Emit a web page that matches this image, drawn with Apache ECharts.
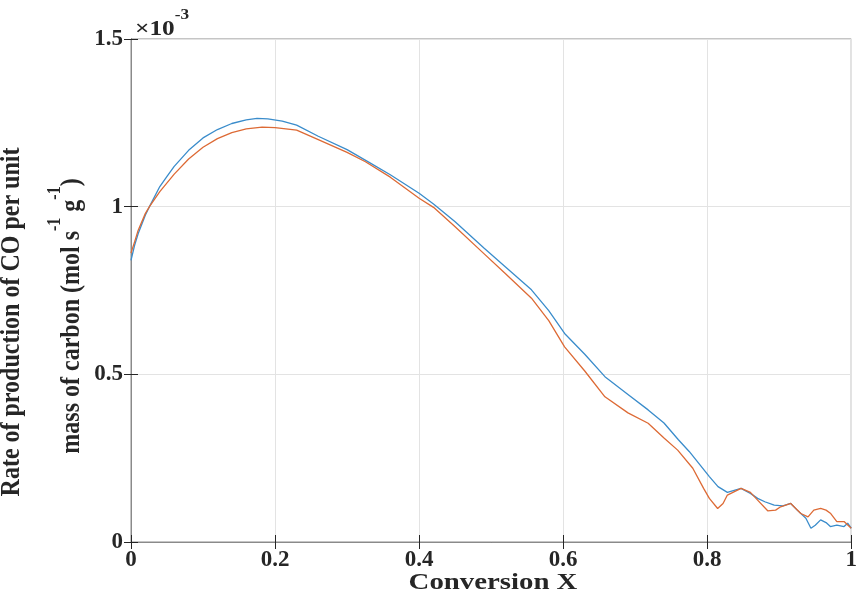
<!DOCTYPE html>
<html>
<head>
<meta charset="utf-8">
<script src="https://cdn.jsdelivr.net/npm/echarts@6/dist/echarts.min.js"></script>
<style>html,body{margin:0;padding:0;background:#fff;}#c{width:860px;height:603px;}</style>
</head>
<body>
<div id="c"></div>
<script>
const xTicks = [0, 0.2, 0.4, 0.6, 0.8, 1];
const yTicks = [0, 0.5, 1, 1.5];

const blueX = [0,0.005,0.01,0.02,0.0256,0.04,0.05,0.06,0.08,0.10,0.12,0.14,0.16,0.175,0.19,0.21,0.23,0.26,0.30,0.33,0.36,0.40,0.42,0.45,0.49,0.52,0.556,0.58,0.602,0.63,0.658,0.69,0.718,0.74,0.76,0.775,0.79,0.803,0.815,0.828,0.847,0.86,0.87,0.88,0.893,0.905,0.916,0.925,0.937,0.944,0.95,0.9575,0.965,0.971,0.98,0.99,0.995,1.0];
const blueY = [0.84,0.885,0.92,0.975,1.0,1.06,1.09,1.12,1.168,1.205,1.23,1.248,1.259,1.263,1.262,1.255,1.243,1.21,1.17,1.133,1.095,1.04,1.008,0.955,0.877,0.82,0.752,0.69,0.622,0.56,0.493,0.44,0.394,0.355,0.305,0.27,0.23,0.195,0.165,0.148,0.160,0.145,0.130,0.12,0.110,0.108,0.115,0.095,0.071,0.041,0.05,0.066,0.058,0.046,0.05,0.046,0.056,0.041];

const orangeX = [0,0.005,0.01,0.02,0.0256,0.04,0.06,0.08,0.10,0.12,0.14,0.16,0.182,0.20,0.23,0.26,0.30,0.3255,0.36,0.40,0.42,0.45,0.487,0.52,0.556,0.58,0.602,0.63,0.658,0.69,0.718,0.74,0.759,0.78,0.795,0.803,0.8145,0.822,0.828,0.847,0.86,0.87,0.884,0.895,0.902,0.916,0.93,0.94,0.948,0.9575,0.965,0.971,0.98,0.99,1.0];
const orangeY = [0.862,0.895,0.93,0.98,1.0,1.045,1.097,1.142,1.177,1.203,1.221,1.232,1.237,1.236,1.228,1.20,1.162,1.134,1.088,1.025,0.998,0.94,0.866,0.80,0.727,0.66,0.582,0.51,0.433,0.385,0.354,0.31,0.274,0.22,0.16,0.13,0.100,0.115,0.140,0.160,0.148,0.125,0.093,0.095,0.105,0.115,0.085,0.075,0.095,0.100,0.095,0.086,0.061,0.061,0.041];

const FONT = '"Liberation Serif", "Times New Roman", serif';
const TXT = '#262626';
const pair = (xs, ys) => xs.map((x, i) => [x, ys[i]]);

const chart = echarts.init(document.getElementById('c'), null, {renderer: 'canvas'});
const fmtX = v => { const t = xTicks.find(a => Math.abs(a - v) < 1e-9); return t === undefined ? '' : String(t); };
const fmtY = v => { const t = yTicks.find(a => Math.abs(a - v) < 1e-9); return t === undefined ? '' : String(t); };

const tickStyle = {show: true, inside: true, length: 7, lineStyle: {color: '#262626'}};
const axLine = {show: true, lineStyle: {color: '#4d4d4d', width: 1}};

chart.setOption({
  animation: false,
  backgroundColor: '#fff',
  grid: {left: 131, right: 5, top: 39, bottom: 61, show: true, borderColor: '#8a8a8a', borderWidth: 1, backgroundColor: 'transparent'},
  xAxis: [{
    type: 'value', min: 0, max: 1, interval: 0.2,
    axisLine: axLine, axisTick: tickStyle,
    splitLine: {show: true, lineStyle: {color: '#e3e3e3', width: 1}},
    axisLabel: {formatter: fmtX, color: TXT, fontFamily: FONT, fontWeight: 'bold', fontSize: 23, margin: 7}
  }, {
    type: 'value', min: 0, max: 1, interval: 0.2, position: 'top',
    axisLine: {show: true, lineStyle: {color: '#8a8a8a', width: 1}}, axisTick: tickStyle,
    splitLine: {show: false}, axisLabel: {show: false}
  }],
  yAxis: [{
    type: 'value', min: 0, max: 1.5, interval: 0.5,
    axisLine: axLine, axisTick: tickStyle,
    splitLine: {show: true, lineStyle: {color: '#e3e3e3', width: 1}},
    axisLabel: {formatter: fmtY, color: TXT, fontFamily: FONT, fontWeight: 'bold', fontSize: 23, margin: 8}
  }, {
    type: 'value', min: 0, max: 1.5, interval: 0.5, position: 'right',
    axisLine: {show: true, lineStyle: {color: '#8a8a8a', width: 1}}, axisTick: tickStyle,
    splitLine: {show: false}, axisLabel: {show: false}
  }],
  graphic: [
    {type: 'text', x: 493, y: 583, scaleX: 1.2, style: {text: 'Conversion X', font: 'bold 24px ' + FONT, fill: TXT, align: 'center', verticalAlign: 'middle'}},
    {type: 'text', x: 12, y: 322, rotation: Math.PI / 2, scaleY: 1.15, style: {text: 'Rate of production of CO per unit', font: 'bold 24px ' + FONT, fill: TXT, align: 'center', verticalAlign: 'middle'}},
    {type: 'text', x: 66, y: 316, rotation: Math.PI / 2, scaleY: 1.15, style: {
      text: '{n|mass of carbon (mol s}{s|-1}{n| g}{s|-1}{n|)}', fill: TXT, align: 'center', verticalAlign: 'middle',
      rich: {
        n: {font: 'bold 24px ' + FONT, fill: TXT, lineHeight: 26, verticalAlign: 'bottom'},
        s: {font: 'bold 16px ' + FONT, fill: TXT, lineHeight: 34, verticalAlign: 'top'}
      }}},
    {type: 'text', x: 135, y: 24, scaleX: 1.15, style: {
      text: '{a|×10}{b|-3}', fill: TXT, align: 'left', verticalAlign: 'middle',
      rich: {
        a: {font: 'bold 22px ' + FONT, fill: TXT, lineHeight: 24, verticalAlign: 'bottom'},
        b: {font: 'bold 15px ' + FONT, fill: TXT, lineHeight: 32, verticalAlign: 'top'}
      }}}
  ],
  series: [
    {type: 'line', name: 'blue', data: pair(blueX, blueY), showSymbol: false, symbol: 'none', smooth: false, lineStyle: {color: '#3a8ccb', width: 1.3}, z: 3},
    {type: 'line', name: 'orange', data: pair(orangeX, orangeY), showSymbol: false, symbol: 'none', smooth: false, lineStyle: {color: '#dd6a35', width: 1.3}, z: 4}
  ]
});
</script>
</body>
</html>
